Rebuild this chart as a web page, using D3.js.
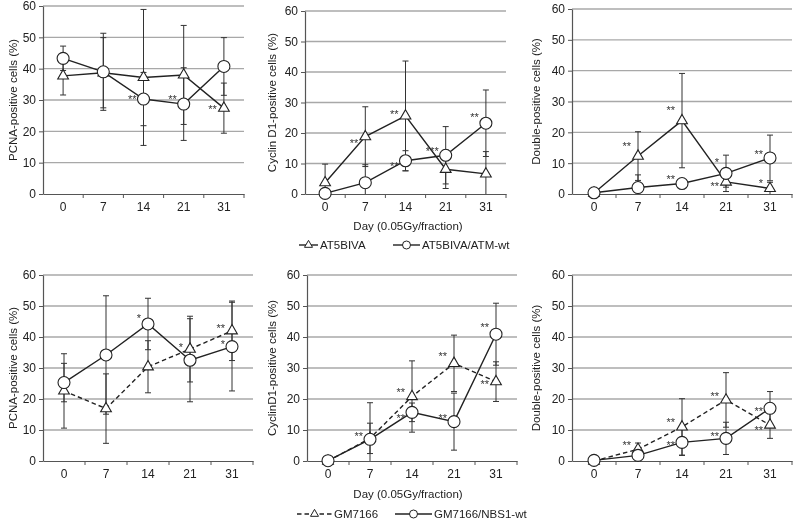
<!DOCTYPE html>
<html lang="en">
<head>
    <meta charset="UTF-8">
    <title>PCNA / Cyclin D1 time course</title>
    <style>
        body { margin: 0; background: #fff; }
        svg { display: block; font-family: "Liberation Sans", Arial, sans-serif; opacity: 0.999; will-change: transform; }
        .grid line { stroke: #a8a8a8; stroke-width: 1.3; }
        .axis path, .axis line { stroke: #555; }
        .axis text { font-size: 12px; fill: #222; }
    </style>
</head>
<body>
    <svg id="chart" width="794" height="522"></svg>

    <script src="https://d3js.org/d3.v7.min.js"></script>
    <script>
        // x categories (days) and y ticks
        const days = ["0", "7", "14", "21", "31"];
        const yTicks = [0, 10, 20, 30, 40, 50, 60];

        // top row: AT5BIVA (triangle) vs AT5BIVA/ATM-wt (circle)
        const at5Pcna = [37.7, 38.7, 37.2, 38.0, 27.4];
        const at5PcnaErr = [6.1, 11.2, 21.7, 15.8, 8.0];
        const atmPcna = [43.3, 39.0, 30.3, 28.7, 40.7];
        const atmPcnaErr = [3.9, 12.3, 8.5, 11.6, 9.2];

        const at5Cyclin = [3.7, 18.8, 25.6, 8.1, 6.6];
        const at5CyclinErr = [6.1, 9.8, 18.0, 6.3, 7.3];
        const atmCyclin = [0.2, 3.7, 10.9, 12.7, 23.2];
        const atmCyclinErr = [0, 5.9, 3.3, 9.4, 10.9];

        const at5Double = [0.3, 12.3, 23.8, 3.9, 1.8];
        const at5DoubleErr = [0.5, 7.9, 15.3, 1.7, 2.0];
        const atmDouble = [0.4, 2.1, 3.4, 6.7, 11.7];
        const atmDoubleErr = [0, 4.1, 1.0, 5.9, 7.4];

        // bottom row: GM7166 (dashed, triangle) vs GM7166/NBS1-wt (circle)
        const gmPcna = [22.6, 16.9, 30.4, 36.1, 42.0];
        const gmPcnaErr = [12.0, 11.2, 8.4, 10.6, 9.6];
        const nbsPcna = [25.3, 34.2, 44.2, 32.5, 36.9];
        const nbsPcnaErr = [6.2, 19.1, 8.3, 13.4, 14.3];

        const gmCyclin = [0, 7.3, 20.8, 31.5, 25.6];
        const gmCyclinErr = [0, 4.9, 11.5, 9.1, 6.4];
        const nbsCyclin = [0.1, 7.0, 15.7, 12.7, 40.9];
        const nbsCyclinErr = [0, 11.8, 3.0, 9.2, 10.0];

        const gmDouble = [0, 3.8, 11.0, 19.7, 11.6];
        const gmDoubleErr = [0, 2.0, 9.1, 8.8, 4.3];
        const nbsDouble = [0.2, 1.8, 6.0, 7.3, 17.0];
        const nbsDoubleErr = [0, 0.5, 4.2, 5.2, 5.4];

        // significance marks: [day, value, text]
        const starsPcnaTop = [["14", 30.9, "**"], ["21", 30.9, "**"], ["31", 27.7, "**"]];
        const starsCyclinTop = [["7", 17.5, "**"], ["14", 26.8, "**"], ["14", 10.0, "**"], ["21", 14.8, "***"], ["31", 26.0, "**"]];
        const starsDoubleTop = [["7", 16.2, "**"], ["14", 28.1, "**"], ["14", 5.6, "**"], ["21", 11.0, "*"], ["21", 3.2, "**"], ["31", 13.7, "**"], ["31", 4.3, "*"]];
        const starsPcnaBottom = [["14", 46.9, "*"], ["21", 37.4, "*"], ["31", 43.5, "**"], ["31", 38.3, "*"]];
        const starsCyclinBottom = [["7", 8.9, "**"], ["14", 23.1, "**"], ["14", 14.6, "**"], ["21", 14.6, "**"], ["21", 34.7, "**"], ["31", 43.9, "**"], ["31", 25.4, "**"]];
        const starsDoubleBottom = [["7", 5.8, "**"], ["14", 13.3, "**"], ["14", 6.0, "**"], ["21", 21.8, "**"], ["21", 8.7, "**"], ["31", 17.0, "**"], ["31", 10.6, "**"]];

        const legendTop = ["AT5BIVA", "AT5BIVA/ATM-wt"];
        const legendBottom = ["GM7166", "GM7166/NBS1-wt"];
        const xTitle = "Day (0.05Gy/fraction)";

        const svg = d3.select("#chart");

        // panel boxes (pixel layout)
        const panels = [
            { title: "PCNA-positive cells (%)", left: 43, right: 244, top: 6, bottom: 194, titleX: 13,
              tri: at5Pcna, triErr: at5PcnaErr, circ: atmPcna, circErr: atmPcnaErr, stars: starsPcnaTop, dashed: false },
            { title: "Cyclin D1-positive cells (%)", left: 305, right: 506, top: 11, bottom: 194, titleX: 272,
              tri: at5Cyclin, triErr: at5CyclinErr, circ: atmCyclin, circErr: atmCyclinErr, stars: starsCyclinTop, dashed: false },
            { title: "Double-positive cells (%)", left: 572, right: 792, top: 9, bottom: 194, titleX: 536,
              tri: at5Double, triErr: at5DoubleErr, circ: atmDouble, circErr: atmDoubleErr, stars: starsDoubleTop, dashed: false },
            { title: "PCNA-positive cells (%)", left: 43, right: 253, top: 275, bottom: 461, titleX: 13,
              tri: gmPcna, triErr: gmPcnaErr, circ: nbsPcna, circErr: nbsPcnaErr, stars: starsPcnaBottom, dashed: true },
            { title: "CyclinD1-positive cells (%)", left: 307, right: 517, top: 275, bottom: 461, titleX: 272,
              tri: gmCyclin, triErr: gmCyclinErr, circ: nbsCyclin, circErr: nbsCyclinErr, stars: starsCyclinBottom, dashed: true },
            { title: "Double-positive cells (%)", left: 572, right: 792, top: 275, bottom: 461, titleX: 536,
              tri: gmDouble, triErr: gmDoubleErr, circ: nbsDouble, circErr: nbsDoubleErr, stars: starsDoubleBottom, dashed: true }
        ];

        const triangle = d3.symbol().type(d3.symbolTriangle).size(50);
        const smallTriangle = d3.symbol().type(d3.symbolTriangle).size(28);

        panels.forEach(p => {
            const g = svg.append("g");
            const x = d3.scaleBand().domain(days).range([p.left, p.right]);
            const y = d3.scaleLinear().domain([0, 60]).range([p.bottom, p.top]);
            const cx = d => x(d) + x.bandwidth() / 2;
            const yc = v => y(Math.max(0, Math.min(60, v)));

            // gridlines
            g.append("g").attr("class", "grid")
                .selectAll("line").data(yTicks.filter(t => t > 0)).join("line")
                .attr("x1", p.left).attr("x2", p.right)
                .attr("y1", d => y(d)).attr("y2", d => y(d));

            // y axis
            const yAxis = g.append("g").attr("class", "axis")
                .attr("transform", `translate(${p.left},0)`)
                .call(d3.axisLeft(y).tickValues(yTicks).tickSize(4).tickSizeOuter(0).tickPadding(3));
            yAxis.select(".domain").attr("stroke-width", 1.2);

            // x axis with ticks between categories
            const xAxis = g.append("g").attr("class", "axis")
                .attr("transform", `translate(0,${p.bottom})`)
                .call(d3.axisBottom(x).tickSize(0).tickPadding(8));
            xAxis.select(".domain").attr("stroke-width", 1.2);
            xAxis.selectAll(".sep").data(days).join("line")
                .attr("class", "sep")
                .attr("x1", d => x(d) + x.bandwidth()).attr("x2", d => x(d) + x.bandwidth())
                .attr("y1", 0).attr("y2", 4)
                .attr("stroke", "#555");

            // axis title
            g.append("text")
                .attr("transform", `translate(${p.titleX},${(p.top + p.bottom) / 2}) rotate(-90)`)
                .attr("text-anchor", "middle").attr("dominant-baseline", "central")
                .attr("font-size", 11.5).attr("fill", "#222")
                .text(p.title);

            const series = [
                { vals: p.tri, errs: p.triErr, shape: "tri", dash: p.dashed },
                { vals: p.circ, errs: p.circErr, shape: "circ", dash: false }
            ];

            // error bars
            series.forEach(s => {
                const eb = g.append("g").attr("stroke", "#333").attr("stroke-width", 1);
                days.forEach((d, i) => {
                    const v = s.vals[i], e = s.errs[i];
                    if (!e) return;
                    eb.append("line").attr("x1", cx(d)).attr("x2", cx(d))
                        .attr("y1", yc(v + e)).attr("y2", yc(v - e));
                    [v + e, v - e].forEach(end => {
                        if (end < 0 || end > 60) return;
                        eb.append("line").attr("x1", cx(d) - 3).attr("x2", cx(d) + 3)
                            .attr("y1", y(end)).attr("y2", y(end));
                    });
                });
            });

            // lines and markers, series by series
            series.forEach(s => {
                const line = d3.line().x((v, i) => cx(days[i])).y(v => y(v));
                g.append("path").datum(s.vals)
                    .attr("d", line)
                    .attr("fill", "none").attr("stroke", "#222").attr("stroke-width", 1.4)
                    .attr("stroke-dasharray", s.dash ? "4.5,3" : null);
                if (s.shape === "tri") {
                    g.selectAll(null).data(s.vals).join("path")
                        .attr("d", triangle)
                        .attr("transform", (v, i) => `translate(${cx(days[i])},${y(v)})`)
                        .attr("fill", "#fff").attr("stroke", "#222").attr("stroke-width", 1.1);
                } else {
                    g.selectAll(null).data(s.vals).join("circle")
                        .attr("cx", (v, i) => cx(days[i])).attr("cy", v => y(v)).attr("r", 6)
                        .attr("fill", "#fff").attr("stroke", "#222").attr("stroke-width", 1.1);
                }
            });

            // significance marks
            g.append("g")
                .selectAll("text").data(p.stars).join("text")
                .attr("x", d => cx(d[0]) - 7)
                .attr("y", d => y(d[1]) + 6.2)
                .attr("text-anchor", "end")
                .attr("font-size", 11).attr("fill", "#333")
                .text(d => d[2]);
        });

        // x titles
        [226, 494].forEach(ty => {
            svg.append("text").attr("x", 408).attr("y", ty)
                .attr("text-anchor", "middle").attr("dominant-baseline", "central")
                .attr("font-size", 11.5).attr("fill", "#222").text(xTitle);
        });

        // legends
        function legendEntry(lx1, lx2, ly, label, shape, dashed) {
            const g = svg.append("g");
            g.append("line").attr("x1", lx1).attr("x2", lx2).attr("y1", ly).attr("y2", ly)
                .attr("stroke", "#222").attr("stroke-width", 1.4)
                .attr("stroke-dasharray", dashed ? "4.5,3" : null);
            const mx = (lx1 + lx2) / 2;
            if (shape === "tri") {
                g.append("path").attr("d", smallTriangle).attr("transform", `translate(${mx},${ly})`)
                    .attr("fill", "#fff").attr("stroke", "#222").attr("stroke-width", 1);
            } else {
                g.append("circle").attr("cx", mx).attr("cy", ly).attr("r", 4)
                    .attr("fill", "#fff").attr("stroke", "#222").attr("stroke-width", 1);
            }
            g.append("text").attr("x", lx2 + 2).attr("y", ly).attr("dominant-baseline", "central")
                .attr("font-size", 11.5).attr("fill", "#222").text(label);
        }
        legendEntry(299, 318, 245, legendTop[0], "tri", false);
        legendEntry(393, 420, 245, legendTop[1], "circ", false);
        legendEntry(297, 332, 514, legendBottom[0], "tri", true);
        legendEntry(395, 432, 514, legendBottom[1], "circ", false);
    </script>
</body>
</html>
